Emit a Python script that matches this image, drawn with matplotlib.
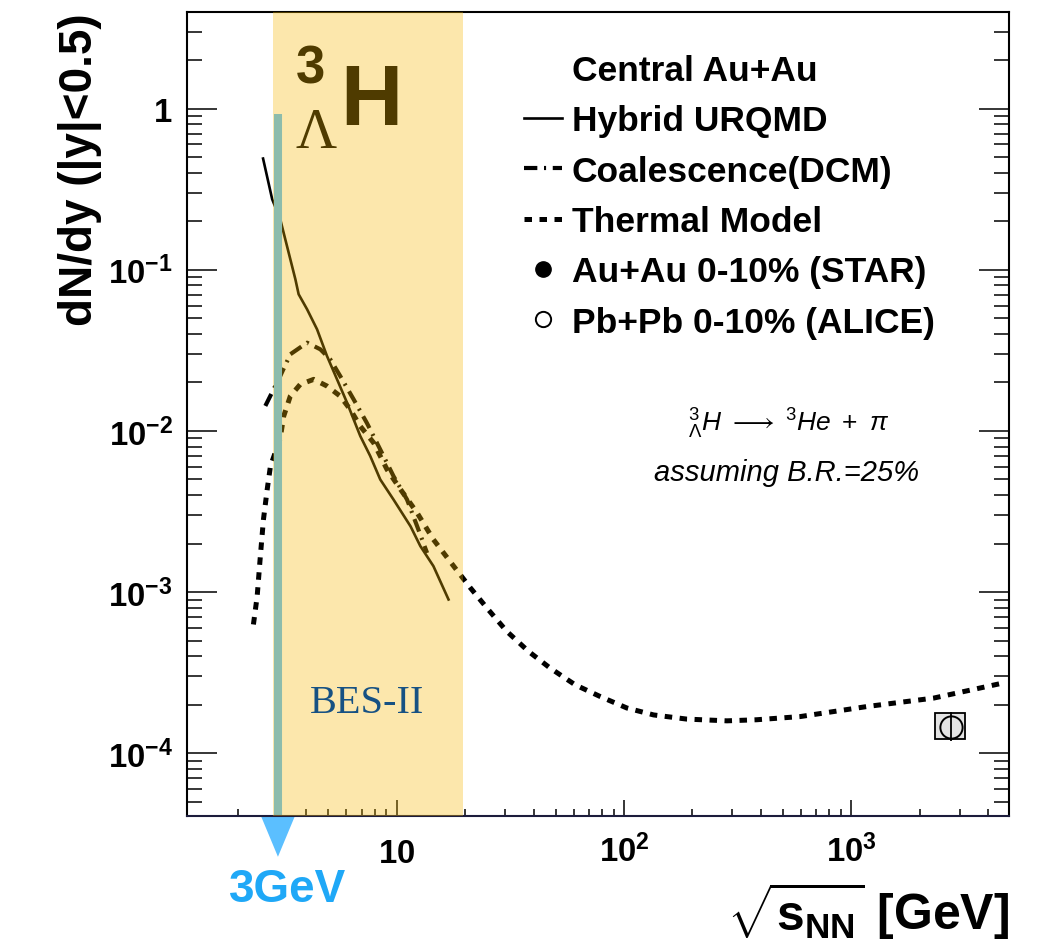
import matplotlib
matplotlib.use("Agg")
import matplotlib.pyplot as plt
from matplotlib.lines import Line2D
from matplotlib.patches import Rectangle
from matplotlib.ticker import LogLocator, NullFormatter

# ---- data ----------------------------------------------------------------
energy_hybrid = [2.58, 2.83, 3.07, 3.58, 3.70, 4.03, 4.46, 4.93, 5.46, 6.04,
                 6.46, 6.91, 7.64, 8.46, 9.68, 11.5, 12.7, 14.5, 16.9]
dndy_hybrid = [0.49, 0.274, 0.206, 0.0873, 0.0705, 0.0569, 0.0427, 0.0292,
               0.0209, 0.0150, 0.0118, 0.0093, 0.0070, 0.0050, 0.00375,
               0.00256, 0.00193, 0.00145, 0.0009]

energy_dcm = [2.64, 3.07, 3.40, 4.03, 4.61, 5.10, 5.64, 6.46, 7.39, 8.46,
              9.68, 11.1, 12.3, 13.6]
dndy_dcm = [0.0143, 0.0219, 0.0299, 0.0353, 0.0321, 0.0278, 0.0219, 0.0157,
            0.0112, 0.00767, 0.00524, 0.00375, 0.00256, 0.00175]

energy_thermal = [2.34, 2.43, 2.51, 2.59, 2.69, 2.78, 3.07, 3.18, 3.40, 3.76,
                  4.31, 4.93, 5.64, 6.24, 6.91, 7.91, 9.06, 10.4, 12.3, 14.5,
                  17.8, 21.1, 25.3, 30.5, 38.0, 47.3, 61.0, 78.6, 103, 135,
                  189, 284, 384, 597, 1172, 2304, 4664]
dndy_thermal = [6.3e-4, 9.4e-4, 1.67e-3, 2.82e-3, 4.33e-3, 6.04e-3, 9.0e-3,
                1.235e-2, 1.644e-2, 1.945e-2, 2.09e-2, 1.90e-2, 1.644e-2,
                1.36e-2, 1.07e-2, 8.45e-3, 5.77e-3, 4.33e-3, 3.10e-3, 2.12e-3,
                1.45e-3, 1.062e-3, 7.78e-4, 5.71e-4, 4.29e-4, 3.38e-4,
                2.66e-4, 2.25e-4, 1.91e-4, 1.73e-4, 1.63e-4, 1.59e-4,
                1.615e-4, 1.69e-4, 1.95e-4, 2.2e-4, 2.73e-4]

# ALICE Pb+Pb 2.76 TeV
alice_x = [2760]
alice_y = [1.46e-4]
alice_stat_lo = [0.26e-4]
alice_stat_hi = [0.35e-4]
alice_sys_y = (1.23e-4, 1.78e-4)
alice_sys_x = (2340, 3170)

bes2_range = (2.86, 19.6)
fxt_energy = 3.0
fxt_top = 0.92

legend_labels = ["Central Au+Au", "Hybrid URQMD", "Coalescence(DCM)",
                 "Thermal Model", "Au+Au 0-10% (STAR)", "Pb+Pb 0-10% (ALICE)"]

# ---- style -----------------------------------------------------------------
plt.rcParams["font.family"] = "Liberation Sans"
plt.rcParams["mathtext.fontset"] = "custom"
plt.rcParams["mathtext.rm"] = "Liberation Sans"
plt.rcParams["mathtext.bf"] = "Liberation Sans:bold"
plt.rcParams["mathtext.it"] = "Liberation Sans:italic"
plt.rcParams["mathtext.sf"] = "Liberation Sans"

W, H = 1037, 945


def fx(p):
    return p / W


def fy(p):
    return 1 - p / H


fig = plt.figure(figsize=(W / 100, H / 100), dpi=100)
ax = fig.add_axes([fx(186.7), fy(816.7), (1009 - 186.7) / W, (816.7 - 13.3) / H])
ax.set_xscale("log")
ax.set_yscale("log")
ax.set_xlim(1.19, 4950)
ax.set_ylim(4.1e-5, 3.96)

dcm_ls = (0, (3.2, 1.6, 0.5, 1.6))
th_ls = (0, (1.5, 1.5))

ax.plot(energy_hybrid, dndy_hybrid, color="k", lw=1.9, zorder=2)
ax.plot(energy_dcm, dndy_dcm, color="k", lw=3.0, ls=dcm_ls, zorder=2)
ax.plot(energy_thermal, dndy_thermal, color="k", lw=3.6, ls=th_ls, zorder=2)

# ALICE point with systematic box
ax.add_patch(Rectangle((alice_sys_x[0], alice_sys_y[0]),
                       alice_sys_x[1] - alice_sys_x[0],
                       alice_sys_y[1] - alice_sys_y[0],
                       facecolor="#e4e4e4", edgecolor="k", lw=1.3, zorder=4))
ax.errorbar(alice_x, alice_y, yerr=[alice_stat_lo, alice_stat_hi], fmt="o",
            mfc="none", mec="k", ms=16, mew=1.4, ecolor="k", elinewidth=1.3,
            capsize=0, zorder=5)

# 3 GeV fixed-target line + arrow
ylo = ax.get_ylim()[0]
ax.plot([fxt_energy, fxt_energy], [fxt_top, ylo], color="#5BBFFF", lw=5.8,
        solid_capstyle="butt", zorder=2.2, clip_on=False)
ax.annotate("", xy=(fxt_energy, 2.28e-5), xytext=(fxt_energy, ylo),
            arrowprops=dict(arrowstyle="-|>,head_length=0.72,head_width=0.3",
                            mutation_scale=40, color="#5BBFFF", lw=0,
                            shrinkA=0, shrinkB=0),
            annotation_clip=False, zorder=2.2)
fig.text(fx(288), fy(890), "3GeV", color="#1FA8F7", fontsize=33,
         fontweight="bold", ha="center", va="center")

# BES-II band drawn over the curves
ax.axvspan(*bes2_range, color="#F6B800", alpha=0.325, lw=0, zorder=3)
ax.text(fx(367), fy(713), "BES-II", transform=fig.transFigure,
        family="Liberation Serif", fontsize=29, color="#165183",
        ha="center", va="baseline", zorder=4)

# hypertriton label (under the band)
ax.text(fx(340), fy(125), "H", transform=fig.transFigure, fontsize=62,
        fontweight="bold", color="k", va="baseline", zorder=2.5)
ax.text(fx(296), fy(83), "3", transform=fig.transFigure, fontsize=38,
        fontweight="bold", color="k", va="baseline", zorder=2.5)
ax.text(fx(296), fy(148), "\u039b", transform=fig.transFigure,
        family="Liberation Serif", fontsize=41, color="k", va="baseline",
        zorder=2.5)

# decay note
fig.text(fx(789), fy(424),
         r"${}^{3}_{\Lambda}H\ \longrightarrow\ {}^{3}He\ +\ \pi$",
         fontsize=19, ha="center", va="center")
fig.text(fx(787), fy(473), "assuming B.R.=25%", fontsize=21, style="italic",
         ha="center", va="center")

# legend
handles = [
    Line2D([], [], ls="none"),
    Line2D([], [], color="k", lw=1.9),
    Line2D([], [], color="k", lw=3.0, ls=dcm_ls),
    Line2D([], [], color="k", lw=3.6, ls=th_ls),
    Line2D([], [], ls="none", marker="o", color="k", ms=11),
    Line2D([], [], ls="none", marker="o", mfc="white", mec="k", ms=11, mew=1.4),
]
leg = ax.legend(handles, legend_labels, loc="upper left",
                bbox_to_anchor=(fx(524), fy(55)), bbox_transform=fig.transFigure,
                frameon=False, borderpad=0, borderaxespad=0, handlelength=1.07,
                handletextpad=0.28, labelspacing=0.49,
                prop=dict(family="Liberation Sans", weight="bold", size=25.5))
leg.set_zorder(5)

# axes / ticks
ax.set_xticks([10, 100, 1000],
              labels=[r"$\mathbf{10}$", r"$\mathbf{10^{2}}$", r"$\mathbf{10^{3}}$"])
ax.xaxis.set_minor_locator(LogLocator(base=10, subs=range(2, 10), numticks=20))
ax.xaxis.set_minor_formatter(NullFormatter())
ax.set_yticks([1e-4, 1e-3, 1e-2, 1e-1, 1],
              labels=[r"$\mathbf{10^{-4}}$", r"$\mathbf{10^{-3}}$",
                      r"$\mathbf{10^{-2}}$", r"$\mathbf{10^{-1}}$", r"$\mathbf{1}$"])
ax.yaxis.set_minor_locator(LogLocator(base=10, subs=range(2, 10), numticks=20))
ax.yaxis.set_minor_formatter(NullFormatter())

ax.tick_params(axis="x", which="major", direction="in", length=11.5, width=1.1,
               top=False, labelsize=23.7, pad=33)
ax.tick_params(axis="x", which="minor", direction="in", length=5, width=1.1,
               top=False)
ax.tick_params(axis="y", which="major", direction="in", length=21.6, width=1.1,
               right=True, labelsize=23.7, pad=10)
ax.tick_params(axis="y", which="minor", direction="in", length=10.8, width=1.1,
               right=True)
for lab in ax.get_xticklabels():
    lab.set_verticalalignment("baseline")

for s in ax.spines.values():
    s.set_linewidth(1.5)
ax.spines["bottom"].set_color("#1c1c3c")

ax.set_ylabel("dN/dy (|y|<0.5)", fontsize=33, fontweight="bold", loc="top")
ax.yaxis.set_label_coords(-0.103, 1.0)
ax.set_xlabel(r"$\sqrt{\mathbf{s}_{\mathbf{NN}}}$ [GeV]", fontsize=36,
              fontweight="bold", loc="right")
ax.xaxis.set_label_coords(1.0, -0.079)

fig.savefig("out.png", dpi=100)
